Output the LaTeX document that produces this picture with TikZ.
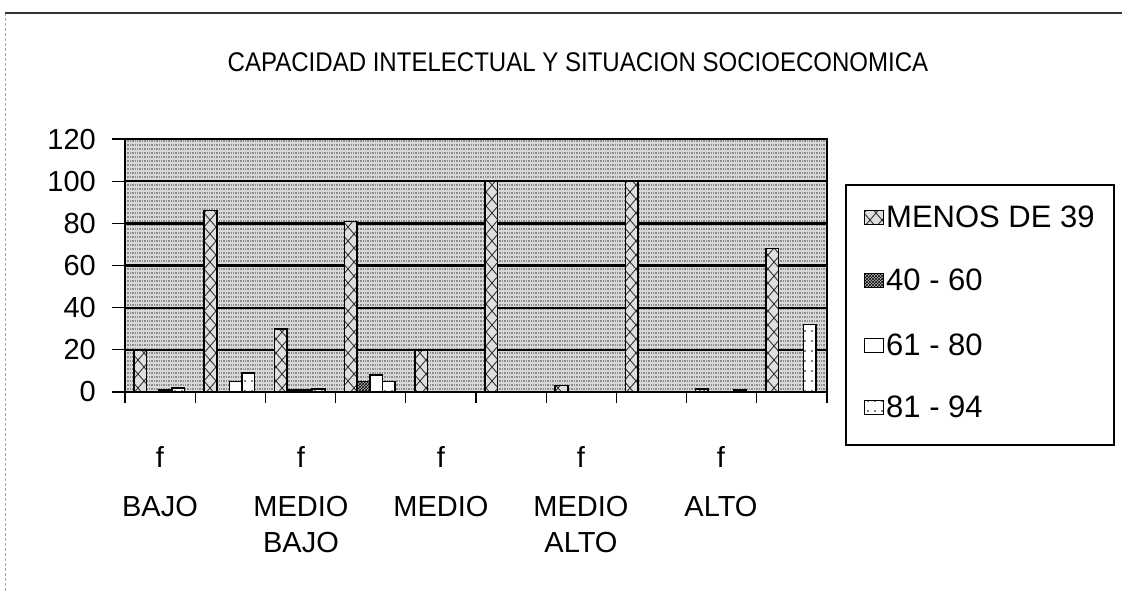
\documentclass[tikz,border=0pt]{standalone}
\usepackage{fontspec}
\setmainfont{Liberation Sans}
\usetikzlibrary{positioning, patterns}

\pgfdeclarepatternformonly{sparse dots}{\pgfqpoint{-1pt}{-1pt}}{\pgfqpoint{1pt}{1pt}}{\pgfqpoint{7pt}{10pt}}{%
    \pgfpathcircle{\pgfqpoint{0pt}{0pt}}{0.9pt}\pgfusepath{fill}}
\pgfdeclarepatternformonly{big cross}{\pgfqpoint{-1pt}{-1pt}}{\pgfqpoint{13pt}{15pt}}{\pgfqpoint{12pt}{14pt}}{%
    \pgfsetlinewidth{0.9pt}
    \pgfpathmoveto{\pgfqpoint{0pt}{0pt}}\pgfpathlineto{\pgfqpoint{12pt}{14pt}}
    \pgfpathmoveto{\pgfqpoint{0pt}{14pt}}\pgfpathlineto{\pgfqpoint{12pt}{0pt}}
    \pgfusepath{stroke}}

\def\slotw{70.2}
\def\barw{12.6}
\def\unit{2.108}
\def\zeroy{392}

\tikzset{
    titletext/.style={font=\fontsize{27}{30}\selectfont, inner sep=0, xscale=0.89, transform shape},
    ytext/.style={font=\fontsize{29}{34}\selectfont, anchor=east, inner sep=0},
    cattext/.style={font=\fontsize{29}{36}\selectfont, inner sep=0, align=center},
    legtext/.style={font=\fontsize{31}{36}\selectfont, anchor=west, inner sep=0},
    gridline/.style={black, line width=2.6pt},
    thingrid/.style={black, line width=1.8pt},
    menos39/.style={draw=black, line width=1.5pt, preaction={fill=gray!25}, pattern=big cross, pattern color=black!80},
    r40to60/.style={draw=black, line width=1.5pt, preaction={fill=gray!55}, pattern=crosshatch, pattern color=black},
    r61to80/.style={draw=black, line width=1.5pt, fill=white},
    r81to94/.style={draw=black, line width=1.5pt, preaction={fill=white}, pattern=sparse dots, pattern color=black}
}

\begin{document}
\begin{tikzpicture}[x=1pt, y=-1pt]
    \useasboundingbox (0,0) rectangle (1122,591);

    % page border
    \draw[gray!70, line width=1pt, densely dashed] (5,591) -- (5,13);
    \draw[black!80, line width=1.6pt] (5,13) -- (1122,13);

    \node[titletext] (title) at (578,62) {CAPACIDAD INTELECTUAL Y SITUACION SOCIOECONOMICA};

    % plot area background
    \fill[gray!30] (125,139) rectangle (827,\zeroy);
    \foreach \y in {141,145,...,390}
    {
        \draw[gray!90, line width=1.4pt, dash pattern=on 1.4pt off 1pt] (125,\y) -- (827,\y);
    }

    % grid lines
    \foreach \v in {60,80,100}
    {
        \draw[gridline] (125,{\zeroy-\v*\unit}) -- (827,{\zeroy-\v*\unit});
    }
    \foreach \v in {20,40}
    {
        \draw[thingrid] (125,{\zeroy-\v*\unit}) -- (827,{\zeroy-\v*\unit});
    }
    \draw[black, line width=1.2pt] (125,139) rectangle (827,\zeroy);

    % y axis
    \foreach \v in {0,20,...,120}
    {
        \draw[black, line width=1.2pt] (112,{\zeroy-\v*\unit}) -- (125,{\zeroy-\v*\unit});
        \node[ytext] (y\v) at (96,{\zeroy-\v*\unit}) {\v};
    }

    % x axis ticks
    \foreach \s in {0,...,10}
    {
        \draw[black, line width=1.2pt] ({125+\s*\slotw},\zeroy) -- ({125+\s*\slotw},403);
    }

    % bars
    \foreach \s/\va/\vb/\vc/\vd in {
        0/20/0/1/2,
        1/86/0/5/9,
        2/30/1/1/1.5,
        3/81/5/8/5,
        4/20/0/0/0,
        5/100/0/0/0,
        6/3/0/0/0,
        7/100/0/0/0,
        8/1.5/0/0/1,
        9/68/0/0/32}{
        \foreach \k/\v/\st in {0/\va/menos39, 1/\vb/r40to60, 2/\vc/r61to80, 3/\vd/r81to94}
        {
            \ifdim \v pt>0pt
                \draw[\st] ({134+\s*\slotw+\k*\barw},\zeroy) rectangle ({134+\s*\slotw+(\k+1)*\barw},{\zeroy-\v*\unit});
            \fi
        }
    }

    % category labels
    \foreach \x/\a/\b [count=\i] in {160/BAJO/, 301/MEDIO/BAJO, 441/MEDIO/, 581/MEDIO/ALTO, 721/ALTO/}
    {
        \node[cattext, anchor=base] (f\i) at (\x,467) {f};
        \node[cattext, anchor=north] (cat\i) at (\x,496) {\a\\\b};
    }

    % legend
    \draw[black, line width=1.2pt] (846,185) rectangle (1114,445);
    \foreach \y/\st/\txt [count=\i] in {217/menos39/MENOS DE 39, 280/r40to60/40 - 60, 345/r61to80/61 - 80, 407/r81to94/81 - 94}
    {
        \draw[\st, line width=0.8pt] (864,\y-7) rectangle (883,\y+7);
        \node[legtext] (leg\i) at (886,\y) {\txt};
    }
\end{tikzpicture}
\end{document}
